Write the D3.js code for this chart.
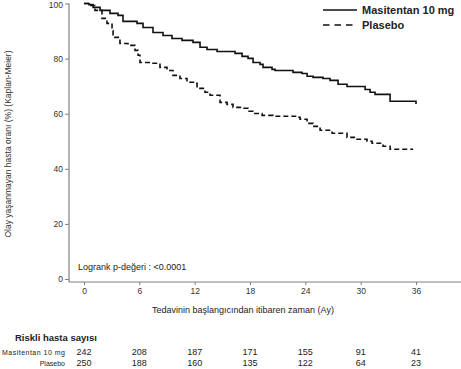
<!DOCTYPE html>
<html><head><meta charset="utf-8">
<script src="https://cdn.jsdelivr.net/npm/d3@7"></script>
<style>
html,body{margin:0;padding:0;background:#fff;}
svg{display:block;font-family:"Liberation Sans",Arial,Helvetica,sans-serif;}
</style>
</head><body>
<script>
// ---- data ----
const xTicks = [0, 6, 12, 18, 24, 30, 36];
const yTicks = [0, 20, 40, 60, 80, 100];
const seriesNames = ["Masitentan 10 mg", "Plasebo"];
const masitentanTime = [0, 0.54, 0.98, 1.74, 2.82, 3.69, 4.23, 5.75, 6.4, 7.48, 8.57, 9.54, 10.63, 11.82, 12.58, 13.34, 14.43, 16.38, 17.14, 17.79, 18.33, 19.09, 19.41, 20.39, 20.72, 22.67, 23.64, 24.19, 24.84, 25.92, 26.68, 27.55, 28.52, 30.48, 31.02, 31.56, 33.19, 36.0];
const masitentanSurv = [100, 99.6, 98.6, 97.5, 96.4, 95.7, 93.5, 92.8, 91.3, 89.5, 88.4, 87.3, 86.6, 85.9, 84.1, 83.3, 82.6, 81.9, 80.8, 80.1, 78.6, 77.9, 76.8, 76.1, 75.7, 75.0, 74.6, 73.6, 73.2, 72.8, 72.1, 70.7, 69.9, 68.8, 67.8, 67.0, 64.5, 63.5];
const masitentanEnd = 36.0;
const plaseboTime = [0, 0.65, 1.19, 1.95, 2.49, 3.04, 3.15, 3.9, 4.77, 5.53, 5.86, 6.07, 7.38, 8.24, 9.0, 9.65, 10.41, 11.17, 12.04, 12.26, 13.12, 13.67, 14.75, 15.51, 16.16, 17.14, 17.79, 18.33, 19.31, 20.5, 23.1, 23.43, 24.19, 24.84, 25.6, 26.9, 28.52, 29.61, 30.69, 31.24, 32.43, 33.19];
const plaseboSurv = [100, 99.3, 97.5, 94.6, 92.8, 90.2, 87.7, 85.5, 84.8, 83.0, 81.2, 78.6, 78.3, 76.8, 75.7, 73.9, 72.8, 71.4, 71.0, 69.2, 67.8, 66.7, 64.1, 63.4, 62.3, 62.0, 60.9, 60.1, 59.4, 59.1, 58.7, 58.0, 56.5, 55.4, 54.0, 52.9, 51.4, 50.7, 50.0, 49.3, 48.2, 47.1];
const plaseboEnd = 35.7;
const riskTitle = "Riskli hasta sayısı";
const riskMasitentan = [242, 208, 187, 171, 155, 91, 41];
const riskPlasebo = [250, 188, 160, 135, 122, 64, 23];
const yTitle = "Olay yaşanmayan hasta oranı (%) (Kaplan-Meier)";
const xTitle = "Tedavinin başlangıcından itibaren zaman (Ay)";
const pText = "Logrank p-değeri : <0.0001";

// ---- layout ----
const W = 461, H = 369;
const svg = d3.select("body").append("svg").attr("width", W).attr("height", H);
const x = d3.scaleLinear().domain([0, 36]).range([84, 416]);
const y = d3.scaleLinear().domain([0, 100]).range([279, 3.5]);
const axisColor = "#808080", textColor = "#333";

// axes lines
svg.append("line").attr("x1", 69).attr("x2", 69).attr("y1", y(100)).attr("y2", 282)
  .attr("stroke", axisColor).attr("stroke-width", 1.2);
svg.append("line").attr("x1", 69).attr("x2", 461).attr("y1", 282).attr("y2", 282)
  .attr("stroke", axisColor).attr("stroke-width", 1.2);

const yAxis = d3.axisLeft(y).tickValues(yTicks).tickSize(4).tickPadding(2);
const gy = svg.append("g").attr("transform", "translate(69,0)").call(yAxis);
gy.select(".domain").remove();
gy.selectAll("line").attr("stroke", axisColor);
gy.selectAll("text").attr("fill", textColor).attr("font-size", 8.5)
  .style("font-family", "Liberation Sans, Arial, sans-serif")
  .attr("dy", d => d === 100 ? "0.45em" : "0.32em");

const xAxis = d3.axisBottom(x).tickValues(xTicks).tickSize(3).tickPadding(3);
const gx = svg.append("g").attr("transform", "translate(0,282)").call(xAxis);
gx.select(".domain").remove();
gx.selectAll("line").attr("stroke", axisColor);
gx.selectAll("text").attr("fill", textColor).attr("font-size", 8.5).style("font-family", "Liberation Sans, Arial, sans-serif");

// step lines
function stepData(times, vals, end) {
  const d = times.map((t, i) => [t, vals[i]]);
  if (end > times[times.length - 1]) d.push([end, vals[vals.length - 1]]);
  return d;
}
const line = d3.line().x(d => x(d[0])).y(d => y(d[1])).curve(d3.curveStepAfter);
svg.append("path").datum(stepData(masitentanTime, masitentanSurv, masitentanEnd))
  .attr("d", line).attr("fill", "none").attr("stroke", "#111").attr("stroke-width", 1.6);
svg.append("path").datum(stepData(plaseboTime, plaseboSurv, plaseboEnd))
  .attr("d", line).attr("fill", "none").attr("stroke", "#111").attr("stroke-width", 1.6)
  .attr("stroke-dasharray", "5,3");

// legend
const lg = svg.append("g");
[0, 1].forEach(i => {
  const ly = 10 + i * 15;
  lg.append("line").attr("x1", 323).attr("x2", 357).attr("y1", ly).attr("y2", ly)
    .attr("stroke", "#111").attr("stroke-width", 1.6)
    .attr("stroke-dasharray", i === 1 ? "6.5,5" : null);
  lg.append("text").attr("x", 362).attr("y", ly + 4).text(seriesNames[i])
    .attr("font-size", 11).attr("font-weight", "bold").attr("fill", "#222");
});

// p-value
svg.append("text").attr("x", 78).attr("y", 270).text(pText)
  .attr("font-size", 9).attr("fill", "#222");

// axis titles
svg.append("text").attr("transform", "translate(11,144) rotate(-90)")
  .attr("text-anchor", "middle").text(yTitle).attr("font-size", 8.5).attr("fill", textColor);
svg.append("text").attr("x", 243).attr("y", 313).attr("text-anchor", "middle")
  .text(xTitle).attr("font-size", 9).attr("fill", "#222");

// risk table
svg.append("text").attr("x", 15).attr("y", 341).text(riskTitle)
  .attr("font-size", 9.5).attr("font-weight", "bold").attr("fill", "#222");
const rows = [[seriesNames[0], riskMasitentan, 355], [seriesNames[1], riskPlasebo, 366]];
rows.forEach(([name, vals, ry]) => {
  svg.append("text").attr("x", 65).attr("y", ry).attr("text-anchor", "end")
    .text(name).attr("font-size", 7).attr("fill", "#222")
    .attr("textLength", name.length > 10 ? 63 : null);
  svg.selectAll(null).data(vals).enter().append("text")
    .attr("x", (d, i) => x(xTicks[i])).attr("y", ry).attr("text-anchor", "middle")
    .text(d => d).attr("font-size", 9).attr("fill", "#222");
});
</script>
</body></html>
